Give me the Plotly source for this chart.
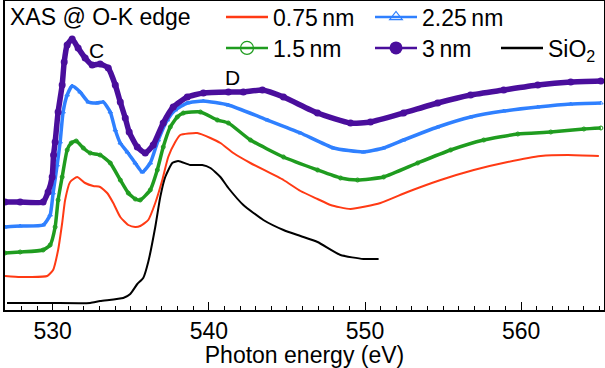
import plotly.graph_objects as go

# ---------------- data ----------------
# 0.75 nm
e_075 = [526.95, 527.92, 528.56, 529.65, 530.03, 530.35, 530.61, 530.80, 531.12, 531.57,
         532.08, 532.60, 533.04, 533.49, 533.88, 534.33, 534.84, 535.29, 535.61, 536.12,
         536.57, 537.02, 537.40, 537.85, 538.17, 539.26, 540.10, 540.74, 541.57, 542.66,
         544.78, 545.87, 546.96, 547.79, 549.07, 550.99, 552.72, 554.84, 556.96, 559.13,
         561.25, 562.98, 564.97]
i_075 = [0.34, 0.33, 0.33, 0.34, 0.40, 0.60, 0.87, 1.10, 1.28, 1.33,
         1.27, 1.24, 1.23, 1.17, 1.07, 0.93, 0.85, 0.83, 0.84, 0.90,
         1.07, 1.30, 1.53, 1.68, 1.75, 1.77, 1.72, 1.67, 1.57, 1.47,
         1.30, 1.19, 1.11, 1.05, 1.01, 1.07, 1.18, 1.30, 1.40, 1.48,
         1.54, 1.55, 1.54]

# 1.5 nm
e_15 = [526.95, 527.92, 529.39, 529.84, 530.16, 530.35, 530.61, 530.93, 531.19, 531.51,
        531.96, 532.40, 533.04, 533.69, 534.33, 534.84, 535.29, 535.61, 536.25, 536.70,
        537.08, 537.53, 537.98, 538.37, 539.46, 540.54, 541.25, 542.66, 544.78, 546.96,
        548.43, 549.52, 551.19, 553.37, 555.48, 557.60, 559.78, 561.89, 564.01, 565.10]
i_15 = [0.57, 0.58, 0.60, 0.65, 0.83, 1.10, 1.33, 1.60, 1.67, 1.69,
        1.62, 1.57, 1.55, 1.47, 1.30, 1.17, 1.11, 1.10, 1.20, 1.40,
        1.63, 1.83, 1.93, 1.97, 1.98, 1.90, 1.87, 1.70, 1.53, 1.40,
        1.32, 1.30, 1.33, 1.47, 1.60, 1.70, 1.76, 1.78, 1.81, 1.82]

# 2.25 nm
e_225 = [526.95, 527.92, 529.39, 529.84, 530.03, 530.29, 530.48, 530.67, 530.93, 531.25,
         531.76, 532.28, 532.85, 533.24, 533.69, 534.01, 534.33, 534.78, 535.29, 535.74,
         536.25, 536.76, 537.34, 537.85, 538.62, 539.65, 541.25, 543.75, 545.87, 547.98,
         549.90, 551.19, 552.47, 554.65, 556.76, 558.88, 561.06, 563.17, 565.10]
i_225 = [0.83, 0.84, 0.85, 0.95, 1.17, 1.45, 1.68, 1.98, 2.15, 2.24,
         2.18, 2.08, 2.07, 2.08, 1.98, 1.80, 1.67, 1.58, 1.47, 1.38,
         1.47, 1.70, 1.90, 2.00, 2.07, 2.09, 2.05, 1.90, 1.77, 1.62,
         1.58, 1.62, 1.70, 1.83, 1.93, 1.99, 2.03, 2.06, 2.07]

# 3 nm
e_3 = [526.95, 527.92, 529.39, 529.71, 529.97, 530.06, 530.16, 530.35, 530.61, 530.74,
       530.93, 531.25, 531.63, 532.08, 532.53, 533.04, 533.56, 534.01, 534.33, 534.65,
       534.90, 535.42, 535.93, 536.44, 537.08, 537.72, 538.62, 539.65, 541.25, 542.21,
       543.43, 544.78, 546.96, 549.07, 550.35, 552.47, 554.65, 556.76, 558.88, 561.06,
       563.17, 565.10]
i_3 = [1.08, 1.08, 1.08, 1.18, 1.33, 1.55, 1.68, 1.98, 2.25, 2.48,
       2.65, 2.71, 2.62, 2.52, 2.45, 2.46, 2.42, 2.25, 2.08, 1.92,
       1.78, 1.63, 1.57, 1.65, 1.87, 2.03, 2.13, 2.17, 2.18, 2.18,
       2.20, 2.13, 1.97, 1.87, 1.88, 1.97, 2.07, 2.15, 2.20, 2.25,
       2.28, 2.29]

# SiO2 reference
e_sio2 = [527.08, 529.84, 532.40, 533.04, 534.52, 534.97, 535.42, 535.80, 536.12, 536.57,
          536.89, 537.21, 537.66, 538.04, 538.81, 539.58, 540.10, 540.74, 541.25, 542.21,
          543.49, 544.78, 545.87, 546.96, 548.43, 549.90, 550.87]
i_sio2 = [0.07, 0.07, 0.07, 0.09, 0.12, 0.16, 0.26, 0.32, 0.48, 0.83,
          1.13, 1.33, 1.47, 1.49, 1.45, 1.45, 1.42, 1.33, 1.22, 1.05,
          0.90, 0.80, 0.74, 0.68, 0.55, 0.51, 0.51]

tick_vals = [530, 540, 550, 560]
tick_text = ["530", "540", "550", "560"]

FONT = "Liberation Sans, Arial, sans-serif"
FS = 23
RED, GREEN, BLUE, PURPLE, BLACK = "#ff3a14", "#1f9c1f", "#2f80ff", "#4a0e9c", "#000000"
SPL = dict(shape="spline", smoothing=0.5)

fig = go.Figure()
# data traces
fig.add_trace(go.Scatter(x=e_075, y=i_075, mode="lines", showlegend=False,
                         line=dict(color=RED, width=2, **SPL)))
fig.add_trace(go.Scatter(x=e_225, y=i_225, mode="lines+markers", showlegend=False,
                         line=dict(color=BLUE, width=3.5, **SPL),
                         marker=dict(symbol="triangle-up-open", size=4, color=BLUE)))
fig.add_trace(go.Scatter(x=e_15, y=i_15, mode="lines+markers", showlegend=False,
                         line=dict(color=GREEN, width=3.5, **SPL),
                         marker=dict(symbol="circle-open", size=4, color=GREEN)))
fig.add_trace(go.Scatter(x=e_3, y=i_3, mode="lines+markers", showlegend=False,
                         line=dict(color=PURPLE, width=5.5, **SPL),
                         marker=dict(symbol="circle", size=7, color=PURPLE)))
fig.add_trace(go.Scatter(x=e_sio2, y=i_sio2, mode="lines", showlegend=False,
                         line=dict(color=BLACK, width=2, **SPL)))

# legend entries (one legend box per entry, so they can be placed as in the reference)
leg_items = [
    ("0.75\u2009nm", RED, "lines", None, "legend"),
    ("2.25\u2009nm", BLUE, "lines+markers", dict(symbol="triangle-up-open", size=11, color=BLUE,
                                                    line=dict(width=1.2)), "legend2"),
    ("1.5\u2009nm", GREEN, "lines+markers", dict(symbol="circle-open", size=13, color=GREEN,
                                                   line=dict(width=1.2)), "legend3"),
    ("3\u2009nm", PURPLE, "lines+markers", dict(symbol="circle", size=13, color=PURPLE), "legend4"),
    ("SiO<sub>2</sub>", BLACK, "lines", None, "legend5"),
]
for name, col, mode, mk, lg in leg_items:
    kw = dict(x=[None], y=[None], mode=mode, name=name, legend=lg,
              line=dict(color=col, width=2.5))
    if mk:
        kw["marker"] = mk
    fig.add_trace(go.Scatter(**kw))

W, H = 605, 368
L, R, T, B = 5, 1, 1, 58
pw, ph = W - L - R, H - T - B


def px_x(px):
    return (px - L) / pw


def px_y(py):
    return (H - B - py) / ph


leg_common = dict(bgcolor="rgba(0,0,0,0)", borderwidth=0, itemwidth=42,
                  font=dict(family=FONT, size=FS, color="black"),
                  xanchor="left", yanchor="middle", orientation="h",
                  itemclick=False, itemdoubleclick=False)
legend_pos = {"legend": (221, 17), "legend2": (370, 17), "legend3": (221, 48),
              "legend4": (370, 48), "legend5": (496, 48)}
for key, (lx, ly) in legend_pos.items():
    fig.update_layout({key: dict(leg_common, x=px_x(lx), y=px_y(ly))})

fig.add_annotation(text="XAS @ O-K edge", xref="paper", yref="paper",
                   x=px_x(8), y=px_y(17), xanchor="left", yanchor="middle",
                   showarrow=False, font=dict(family=FONT, size=FS, color="black"))
fig.add_annotation(text="C", x=532.79, y=2.60, showarrow=False,
                   font=dict(family=FONT, size=21, color="black"))
fig.add_annotation(text="D", x=541.51, y=2.33, showarrow=False,
                   font=dict(family=FONT, size=21, color="black"))

fig.update_layout(
    width=W, height=H,
    margin=dict(l=L, r=R, t=T, b=B, autoexpand=False),
    paper_bgcolor="white", plot_bgcolor="white",
    showlegend=True,
    font=dict(family=FONT, size=FS, color="black"),
    xaxis=dict(range=[526.95, 565.3], showgrid=False, zeroline=False,
               showline=True, linecolor="black", linewidth=1.5, mirror=True,
               ticks="inside", ticklen=8, tickwidth=1.2, tickcolor="black",
               tickvals=tick_vals, ticktext=tick_text,
               tickfont=dict(family=FONT, size=FS, color="black"),
               minor=dict(dtick=1, ticks="inside", ticklen=4, tickwidth=1, tickcolor="black"),
               title=dict(text="Photon energy (eV)", standoff=4,
                          font=dict(family=FONT, size=FS, color="black"))),
    yaxis=dict(range=[0, 3.09], showgrid=False, zeroline=False,
               showline=True, linecolor="black", linewidth=1.5, mirror=True,
               ticks="", showticklabels=False),
)

fig.write_html("out.html", config={"displayModeBar": False},
               post_script="document.body.style.margin='0';document.body.style.overflow='hidden';")
